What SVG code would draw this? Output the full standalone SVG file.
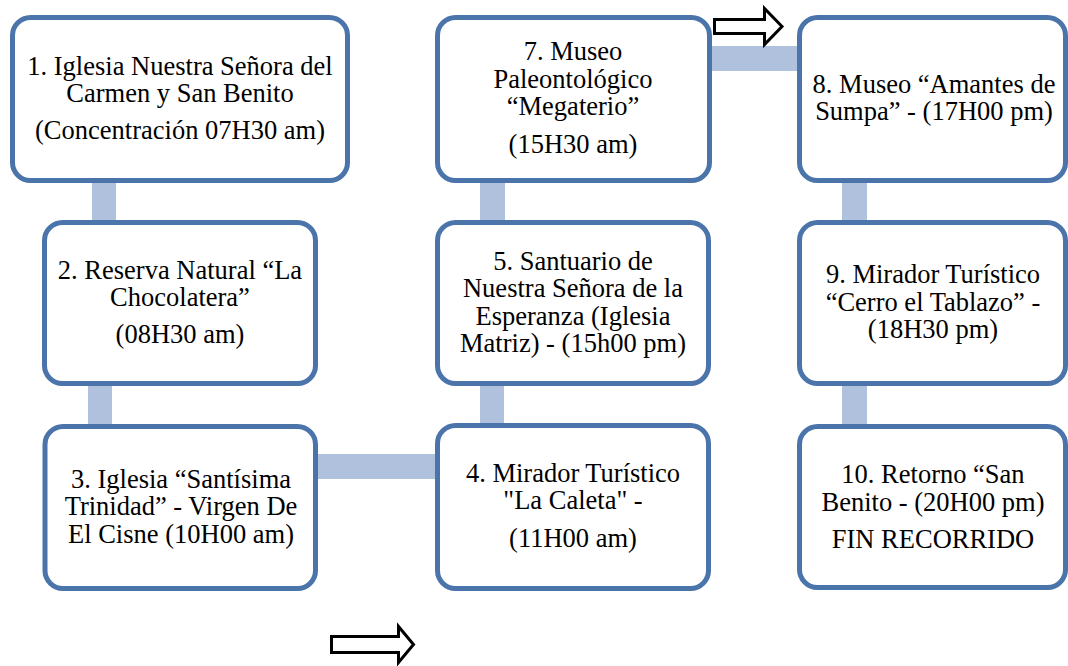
<svg xmlns="http://www.w3.org/2000/svg" width="1068" height="666" viewBox="0 0 1068 666">
<style>
.box{fill:#fff;stroke:#4A74AA;stroke-width:5}
.bar{fill:#AFC1DD}
.t{font-family:"Liberation Serif","Times New Roman",serif;font-size:26.5px;fill:#000;text-anchor:middle}
.arr{fill:#fff;stroke:#000;stroke-width:3;stroke-linejoin:miter}
</style>
<rect width="1068" height="666" fill="#fff"/>
<g id="connectors">
<rect class="bar" x="92" y="178" width="24" height="48"/>
<rect class="bar" x="88" y="381" width="24" height="48"/>
<rect class="bar" x="313" y="454" width="128" height="25"/>
<rect class="bar" x="480" y="381" width="24" height="48"/>
<rect class="bar" x="480" y="178" width="25" height="48"/>
<rect class="bar" x="707" y="46" width="95" height="25"/>
<rect class="bar" x="842" y="178" width="25" height="48"/>
<rect class="bar" x="842" y="381" width="25" height="48"/>
</g>
<g id="node1">
<rect class="box" x="12.5" y="17.5" width="335" height="163" rx="18"/>
<text class="t"><tspan x="180" y="75">1. Iglesia Nuestra Señora del</tspan><tspan x="180" y="102">Carmen y San Benito</tspan><tspan x="180" y="139">(Concentración 07H30 am)</tspan></text>
</g>
<g id="node2">
<rect class="box" x="44.5" y="222.5" width="271" height="161" rx="18"/>
<text class="t"><tspan x="180" y="279">2. Reserva Natural “La</tspan><tspan x="180" y="306">Chocolatera”</tspan><tspan x="180" y="343">(08H30 am)</tspan></text>
</g>
<g id="node3">
<rect class="box" x="45" y="426.5" width="270.5" height="162" rx="18"/>
<text class="t"><tspan x="181" y="488">3. Iglesia “Santísima</tspan><tspan x="181" y="515">Trinidad” - Virgen De</tspan><tspan x="181" y="543">El Cisne (10H00 am)</tspan></text>
</g>
<g id="node4">
<rect class="box" x="437.5" y="425.5" width="271" height="163" rx="18"/>
<text class="t"><tspan x="573" y="482">4. Mirador Turístico</tspan><tspan x="573" y="509">"La Caleta" -</tspan><tspan x="573" y="547">(11H00 am)</tspan></text>
</g>
<g id="node5">
<rect class="box" x="437.5" y="222.5" width="271" height="161" rx="18"/>
<text class="t"><tspan x="573" y="270">5. Santuario de</tspan><tspan x="573" y="297">Nuestra Señora de la</tspan><tspan x="573" y="325">Esperanza (Iglesia</tspan><tspan x="573" y="352">Matriz) - (15h00 pm)</tspan></text>
</g>
<g id="node7">
<rect class="box" x="437.5" y="17.5" width="272" height="163" rx="18"/>
<text class="t"><tspan x="573" y="60">7. Museo</tspan><tspan x="573" y="88">Paleontológico</tspan><tspan x="573" y="115">“Megaterio”</tspan><tspan x="573" y="153">(15H30 am)</tspan></text>
</g>
<g id="node8">
<rect class="box" x="799.5" y="17.5" width="266" height="163" rx="18"/>
<text class="t"><tspan x="934" y="93">8. Museo “Amantes de</tspan><tspan x="934" y="120">Sumpa” - (17H00 pm)</tspan></text>
</g>
<g id="node9">
<rect class="box" x="799.5" y="222.5" width="266" height="161" rx="18"/>
<text class="t"><tspan x="933" y="283">9. Mirador Turístico</tspan><tspan x="933" y="311">“Cerro el Tablazo” -</tspan><tspan x="933" y="338">(18H30 pm)</tspan></text>
</g>
<g id="node10">
<rect class="box" x="799.5" y="426.5" width="266" height="161" rx="18"/>
<text class="t"><tspan x="933" y="483">10. Retorno “San</tspan><tspan x="933" y="511">Benito - (20H00 pm)</tspan><tspan x="933" y="548">FIN RECORRIDO</tspan></text>
</g>
<g id="arrows">
<path class="arr" d="M714.5,19.5 H764.5 V8.5 L782,26.5 L764.5,44.5 V33.5 H714.5 Z"/>
<path class="arr" d="M331.5,636.5 H398.5 V626.5 L413.5,644.5 L398.5,662.5 V652.5 H331.5 Z"/>
</g>
</svg>
